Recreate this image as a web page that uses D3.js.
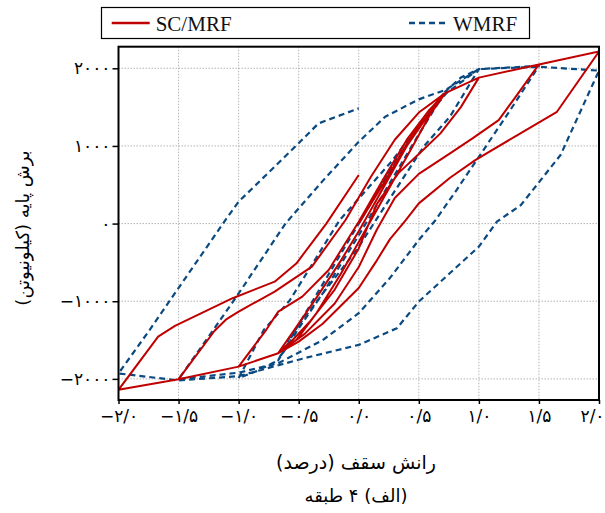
<!DOCTYPE html>
<html><head><meta charset="utf-8">
<script src="https://cdn.jsdelivr.net/npm/d3@7"></script>
<style>body{margin:0;background:#fff}</style>
</head><body>
<svg id="c" width="605" height="513"></svg>
<script>
// ---- data (drift %, base shear kN) in loading order ----
const scDrift = [0,0.2,0.45,0.72, 0.6,0.45,0.25,0.05,-0.15,-0.35,-0.52,-0.67,
  -0.55,-0.35,-0.15,0.0,0.2,0.4,0.58,0.72,1.0,
  0.85,0.68,0.52,0.33,0.15,0.0,-0.2,-0.4,-0.55,-0.67,-1.0,
  -0.77,-0.67,-0.47,-0.25,0.0,0.2,0.4,0.58,0.72,1.0,1.5,
  1.3,1.165,0.95,0.76,0.5,0.3,0.15,0.0,-0.2,-0.45,-0.67,-1.0,-1.5,
  -1.2,-1.1,-1.0,-0.7,-0.39,-0.11,0.1,0.3,0.5,0.72,1.0,1.5,2.0,
  1.65,1.3,0.97,0.76,0.5,0.39,0.26,0.14,0.0,-0.3,-0.5,-0.67,-1.0,-1.5,-2.0,
  -1.67,-1.53,-1.05,-0.7,-0.52,-0.27,0.0];
const scShear = [0,500,1150,1680, 1420,1000,450,-100,-650,-1150,-1500,-1669,
  -1400,-950,-480,-100,450,1000,1400,1680,1880,
  1500,1162,925,650,250,-320,-850,-1250,-1500,-1669,-1842,
  -1368,-1134,-941,-597,24,560,1080,1450,1680,1880,2050,
  1620,1333,1100,905,640,330,-80,-560,-1030,-1420,-1669,-1842,-2004,
  -1380,-1230,-1134,-876,-555,46,600,1080,1430,1680,1880,2050,2215,
  1440,1120,818,590,260,40,-200,-500,-830,-1290,-1520,-1669,-1842,-2004,-2141,
  -1455,-1317,-961,-748,-515,0,625];

const wmDrift = [0,0.3,0.55,0.72, 0.5,0.25,0.0,-0.3,-0.5,-0.67,
  -0.5,-0.25,0.0,0.25,0.5,0.72,0.85,1.0,
  0.76,0.54,0.25,-0.02,-0.3,-0.575,-0.67,-0.85,-1.0,
  -0.79,-0.575,-0.16,0.26,0.5,0.73,1.0,1.5,
  1.25,1.01,0.8,0.64,0.5,0.26,0.0,-0.3,-0.67,-1.0,-1.5,
  -1.21,-1.0,-0.61,-0.3,0.0,0.22,0.5,0.72,1.0,1.5,2.0,
  1.68,1.35,1.15,1.0,0.5,0.318,0.0,-0.47,-1.0,-1.5,-2.0,
  -1.74,-1.11,-1.0,-0.515,-0.335,0.0];
const wmShear = [0,800,1350,1700, 1150,500,-150,-900,-1350,-1760,
  -1300,-650,0,650,1250,1700,1880,1990,
  1379,991,300,-345,-900,-1465,-1760,-1900,-1991,
  -1368,-991,43,776,1250,1681,1990,2030,
  1435,883,400,47,-211,-700,-1154,-1500,-1798,-1920,-2004,
  -1368,-900,0,550,1054,1376,1600,1720,1990,2020,1970,
  883,239,24,-297,-1005,-1347,-1562,-1740,-1965,-2020,-1930,
  -1368,46,282,1012,1290,1484];

const xTicks = [-2,-1.5,-1,-0.5,0,0.5,1,1.5,2];
const xTickLabels = ["−۲/۰","−۱/۵","−۱/۰","−۰/۵","۰/۰","۰/۵","۱/۰","۱/۵","۲/۰"];
const yTicks = [-2000,-1000,0,1000,2000];
const yTickLabels = ["−۲۰۰۰","−۱۰۰۰","۰","۱۰۰۰","۲۰۰۰"];
const seriesNames = ["SC/MRF","WMRF"];
const xTitle = "رانش سقف (درصد)";
const yTitle = "برش پایه (کیلونیوتن)";
const caption = "(الف) ۴ طبقه";

// ---- layout ----
const L=118.5, R=599, T=46.7, B=400;
const x = d3.scaleLinear().domain([-2,2]).range([L,R]);
const y = d3.scaleLinear().domain([-2272,2278]).range([B,T]);
const svg = d3.select("#c");
const fa = "DejaVu Sans";
const RED="#c00000", BLUE="#0b4a80";

// grid
const g = svg.append("g");
g.selectAll(".vg").data(xTicks).join("line")
  .attr("x1",d=>x(d)).attr("x2",d=>x(d)).attr("y1",T).attr("y2",B)
  .attr("stroke","#b5b5b5").attr("stroke-width",1).attr("stroke-dasharray","1.5,1.5");
g.selectAll(".hg").data(yTicks).join("line")
  .attr("x1",L).attr("x2",R).attr("y1",d=>y(d)).attr("y2",d=>y(d))
  .attr("stroke","#b5b5b5").attr("stroke-width",1).attr("stroke-dasharray","1.5,1.5");

// clip
svg.append("clipPath").attr("id","clip").append("rect")
  .attr("x",L).attr("y",T).attr("width",R-L).attr("height",B-T);

const line = d3.line().x(d=>x(d[0])).y(d=>y(d[1]));
const wm = wmDrift.map((d,i)=>[d,wmShear[i]]);
const sc = scDrift.map((d,i)=>[d,scShear[i]]);
svg.append("path").datum(wm).attr("d",line).attr("clip-path","url(#clip)")
  .attr("fill","none").attr("stroke",BLUE).attr("stroke-width",2.2)
  .attr("stroke-dasharray","6,4").attr("stroke-linejoin","round");
svg.append("path").datum(sc).attr("d",line).attr("clip-path","url(#clip)")
  .attr("fill","none").attr("stroke",RED).attr("stroke-width",2)
  .attr("stroke-linejoin","round");

// axes
const xAxis = d3.axisBottom(x).tickValues(xTicks).tickSize(4)
  .tickFormat((d,i)=>xTickLabels[i]);
const yAxis = d3.axisLeft(y).tickValues(yTicks).tickSize(6)
  .tickFormat((d,i)=>yTickLabels[i]);
const gx = svg.append("g").attr("transform",`translate(0,${B})`).call(xAxis);
gx.select(".domain").remove();
const last = xTicks.length-1;
gx.selectAll("text").attr("font-family",fa).attr("font-size",17).attr("fill","#000").attr("dy","0.9em")
  .attr("text-anchor",(d,i)=> i===last ? "end" : "middle")
  .attr("x",(d,i)=> i===last ? 5 : 0);
gx.selectAll("line").attr("stroke","#000").attr("stroke-width",1.5);
const gy = svg.append("g").attr("transform",`translate(${L},0)`).call(yAxis);
gy.select(".domain").remove();
gy.selectAll("text").attr("font-family",fa).attr("font-size",17).attr("fill","#000").attr("x",-8);
gy.selectAll("line").attr("stroke","#000").attr("stroke-width",1.5);

// frame
svg.append("rect").attr("x",L).attr("y",T).attr("width",R-L).attr("height",B-T)
  .attr("fill","none").attr("stroke","#000").attr("stroke-width",2);

// titles
svg.append("text").attr("x",356).attr("y",469).attr("text-anchor","middle")
  .attr("direction","rtl").attr("font-family",fa).attr("font-size",19).text(xTitle);
svg.append("text").attr("x",356).attr("y",502).attr("text-anchor","middle")
  .attr("direction","rtl").attr("font-family",fa).attr("font-size",18).text(caption);
svg.append("text").attr("transform","translate(29,228) rotate(-90)").attr("text-anchor","middle")
  .attr("direction","rtl").attr("font-family",fa).attr("font-size",18).text(yTitle);

// legend
const lg = svg.append("g");
lg.append("rect").attr("x",101.5).attr("y",7.5).attr("width",428).attr("height",31)
  .attr("fill","#fff").attr("stroke","#000").attr("stroke-width",1.2);
const legItems = [{name:seriesNames[0],x0:111.7,color:RED,dash:null},
                  {name:seriesNames[1],x0:409,color:BLUE,dash:"6,4"}];
legItems.forEach(it=>{
  lg.append("line").attr("x1",it.x0).attr("x2",it.x0+38).attr("y1",23).attr("y2",23)
    .attr("stroke",it.color).attr("stroke-width",2.4).attr("stroke-dasharray",it.dash);
  lg.append("text").attr("x",it.x0+44).attr("y",30.5).attr("font-family","Liberation Serif")
    .attr("font-size",21).attr("fill","#111").text(it.name);
});
</script>
</body></html>
